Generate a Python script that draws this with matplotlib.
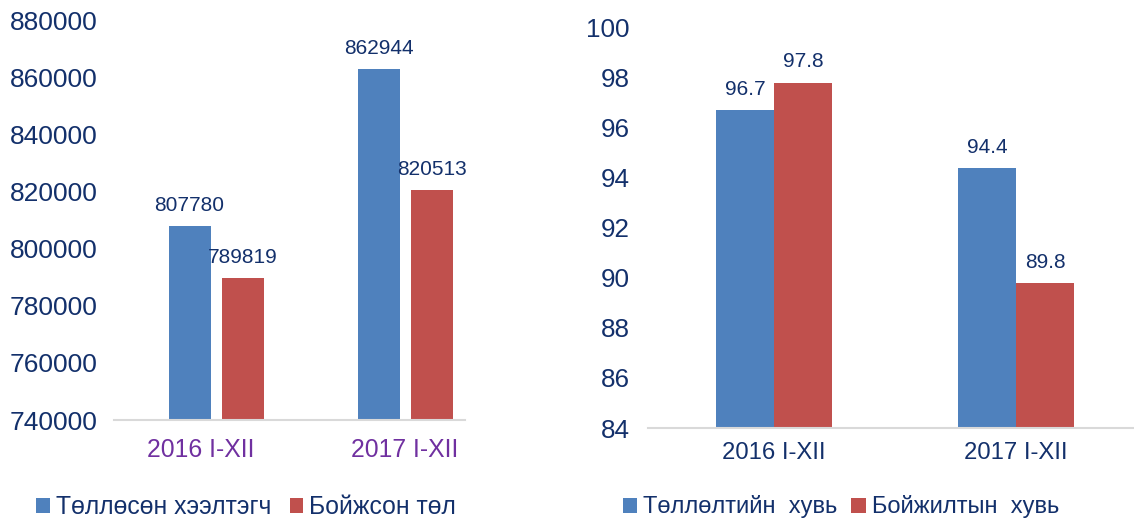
import matplotlib.pyplot as plt
import matplotlib.transforms as mtransforms
import numpy as np

plt.rcParams['font.family'] = ['Liberation Sans', 'DejaVu Sans']

categories = ['2016 I-XII', '2017 I-XII']
newborn = [807780, 862944]      # Төллөсөн хээлтэгч
raised = [789819, 820513]       # Бойжсон төл
birth_pct = [96.7, 94.4]        # Төллөлтийн  хувь
raise_pct = [97.8, 89.8]        # Бойжилтын  хувь

blue = '#4F81BD'
red = '#C0504D'
navy = '#13306B'
purple = '#7030A0'

fig = plt.figure(figsize=(11.34, 5.2), dpi=100)
x = np.arange(len(categories))


def style(ax):
    for s in ['top', 'right', 'left']:
        ax.spines[s].set_visible(False)
    ax.spines['bottom'].set_color('#D9D9D9')
    ax.spines['bottom'].set_linewidth(1.5)
    ax.tick_params(length=0)


def label(ax, bars, fmt, dy):
    for b in bars:
        ax.annotate(fmt(b.get_height()), (b.get_x() + b.get_width() / 2, b.get_height()),
                    xytext=(0, dy), textcoords='offset points', ha='center', va='bottom',
                    fontsize=15, color=navy)


# left chart
ax1 = fig.add_axes([114 / 1134, 1 - 420 / 520, (465 - 114) / 1134, (420 - 20) / 520])
b1 = ax1.bar(x - 0.14, newborn, 0.222, color=blue, label='Төллөсөн хээлтэгч')
b2 = ax1.bar(x + 0.14, raised, 0.222, color=red, label='Бойжсон төл')
ax1.set_ylim(740000, 880000)
ax1.set_yticks(np.arange(740000, 880001, 20000))
ax1.set_xlim(-0.54, 1.317)
ax1.set_xticks(x, categories)
style(ax1)
ax1.tick_params(axis='y', labelsize=19, labelcolor=navy, pad=12)
ax1.tick_params(axis='x', labelsize=17.8, labelcolor=purple, pad=13)
# first category label sits a little left of its bars in the original
t0 = ax1.get_xticklabels()[0]
t0.set_transform(t0.get_transform() + mtransforms.ScaledTranslation(-0.15, 0, fig.dpi_scale_trans))
label(ax1, b1, lambda v: f'{v:.0f}', 8)
label(ax1, b2, lambda v: f'{v:.0f}', 8)
ax1.legend(loc='center left', bbox_to_anchor=(36 / 1134, 1 - 507 / 520),
           bbox_transform=fig.transFigure, ncol=2, frameon=False,
           handlelength=0.55, handleheight=0.55, handletextpad=0.25,
           columnspacing=0.75, borderpad=0, borderaxespad=0,
           prop={'size': 17.8}, labelcolor=navy)

# right chart
ax2 = fig.add_axes([648 / 1134, 1 - 428 / 520, (1134 - 648) / 1134, (428 - 27.5) / 520])
b3 = ax2.bar(x - 0.12, birth_pct, 0.24, color=blue, label='Төллөлтийн  хувь')
b4 = ax2.bar(x + 0.12, raise_pct, 0.24, color=red, label='Бойжилтын  хувь')
ax2.set_ylim(84, 100)
ax2.set_yticks(np.arange(84, 101, 2))
ax2.set_xlim(-0.521, 1.488)
ax2.set_xticks(x, categories)
style(ax2)
ax2.tick_params(axis='y', labelsize=18.7, labelcolor=navy, pad=13)
ax2.tick_params(axis='x', labelsize=17.2, labelcolor=navy, pad=10)
label(ax2, b3, lambda v: f'{v:.1f}', 8)
label(ax2, b4, lambda v: f'{v:.1f}', 8)
ax2.legend(loc='center left', bbox_to_anchor=(623 / 1134, 1 - 507 / 520),
           bbox_transform=fig.transFigure, ncol=2, frameon=False,
           handlelength=0.6, handleheight=0.6, handletextpad=0.25,
           columnspacing=0.6, borderpad=0, borderaxespad=0,
           prop={'size': 17}, labelcolor=navy)

fig.savefig('out.png', dpi=100)
